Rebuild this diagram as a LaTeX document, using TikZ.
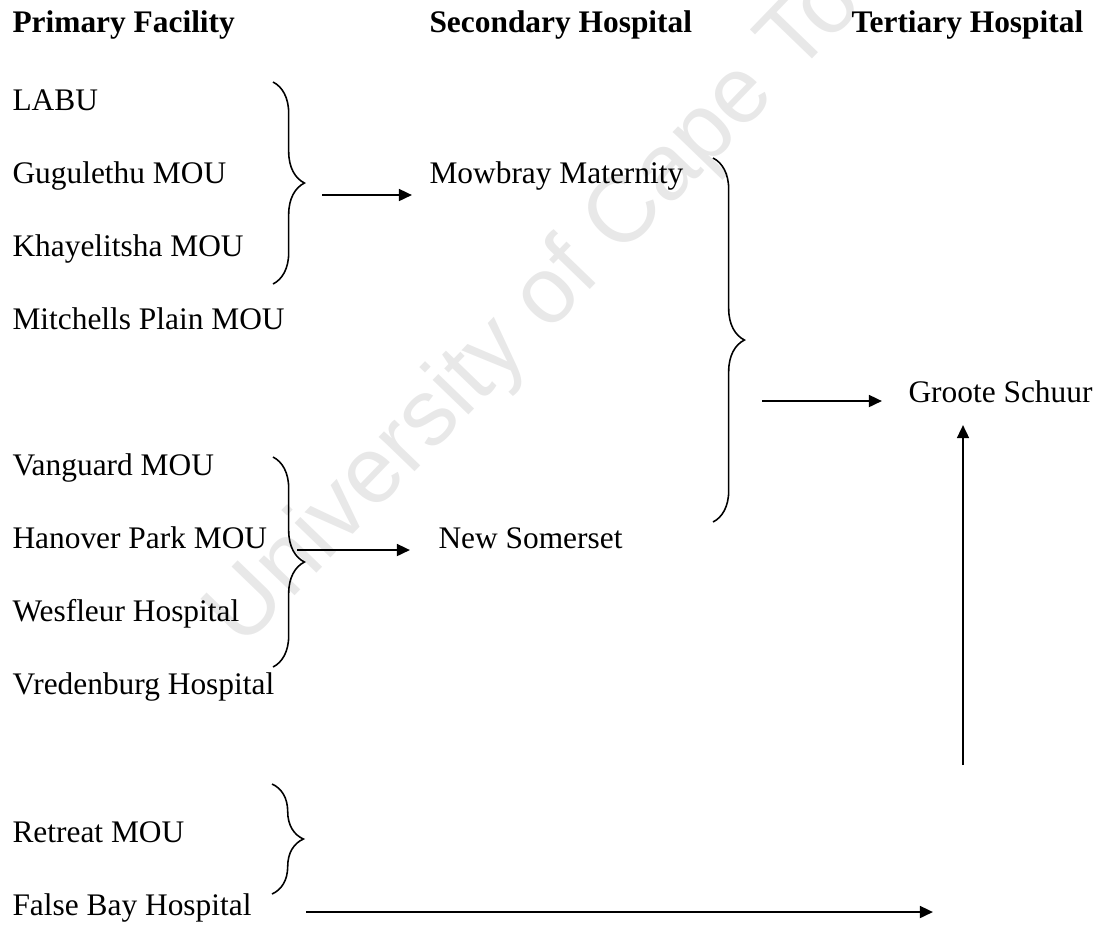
\documentclass[tikz,border=0pt]{standalone}
\usepackage{fontspec}
\setmainfont{Liberation Serif}
\newfontfamily\markfont{Liberation Sans}
\usetikzlibrary{arrows.meta,decorations.pathreplacing}

\begin{document}
\begin{tikzpicture}[x=0.3822pt, y=-0.3822pt,
        item/.style={anchor=base west, inner sep=0pt, font=\fontsize{12}{14}\selectfont},
        head/.style={anchor=base west, inner sep=0pt, font=\fontsize{12}{14}\selectfont\bfseries},
        group/.style={decorate, decoration={brace, amplitude=12pt}, line width=0.6pt},
        flow/.style={-{Triangle[length=5pt,width=4.5pt]}, line width=0.9pt}]
        \useasboundingbox (0,0) rectangle (1099,924);

        % watermark
        \node [rotate=46, text=gray!18, font=\markfont\fontsize{36}{40}\selectfont] (mark) at (578,267) {University of Cape Town};

        % column heads
        \node [head] (prim) at (12,32) {Primary Facility};
        \node [head] (sec) at (429,32) {Secondary Hospital};
        \node [head] (tert) at (851,32) {Tertiary Hospital};

        % primary facilities
        \node [item] (labu) at (12,110) {LABU};
        \node [item] (gugu) at (12,183) {Gugulethu MOU};
        \node [item] (khay) at (12,256) {Khayelitsha MOU};
        \node [item] (mitch) at (12,329) {Mitchells Plain MOU};
        \node [item] (vang) at (12,475) {Vanguard MOU};
        \node [item] (hano) at (12,548) {Hanover Park MOU};
        \node [item] (wesf) at (12,621) {Wesfleur Hospital};
        \node [item] (vred) at (12,694) {Vredenburg Hospital};
        \node [item] (retr) at (12,842) {Retreat MOU};
        \node [item] (fbay) at (12,915) {False Bay Hospital};

        % secondary and tertiary
        \node [item] (mowb) at (429,183) {Mowbray Maternity};
        \node [item] (nsom) at (438,548) {New Somerset};
        \node [item] (gsch) at (908,402) {Groote Schuur};

        % braces
        \coordinate (b1t) at (273,82);
        \coordinate (b1b) at (273,284);
        \coordinate (b2t) at (273,457);
        \coordinate (b2b) at (273,667);
        \coordinate (b3t) at (713,158);
        \coordinate (b3b) at (713,522);
        \coordinate (b4t) at (272,784);
        \coordinate (b4b) at (272,894);
        \draw [group] (b1t) -- (b1b);
        \draw [group] (b2t) -- (b2b);
        \draw [group] (b3t) -- (b3b);
        \draw [group] (b4t) -- (b4b);

        % arrows
        \coordinate (a1s) at (322,195);
        \coordinate (a1e) at (412,195);
        \coordinate (a2s) at (297,550);
        \coordinate (a2e) at (410,550);
        \coordinate (a3s) at (762,401);
        \coordinate (a3e) at (882,401);
        \coordinate (a4s) at (963,765);
        \coordinate (a4e) at (963,425);
        \coordinate (a5s) at (306,912);
        \coordinate (a5e) at (933,912);
        \draw [flow] (a1s) -- (a1e);
        \draw [flow] (a2s) -- (a2e);
        \draw [flow] (a3s) -- (a3e);
        \draw [flow] (a4s) -- (a4e);
        \draw [flow] (a5s) -- (a5e);
\end{tikzpicture}
\end{document}
